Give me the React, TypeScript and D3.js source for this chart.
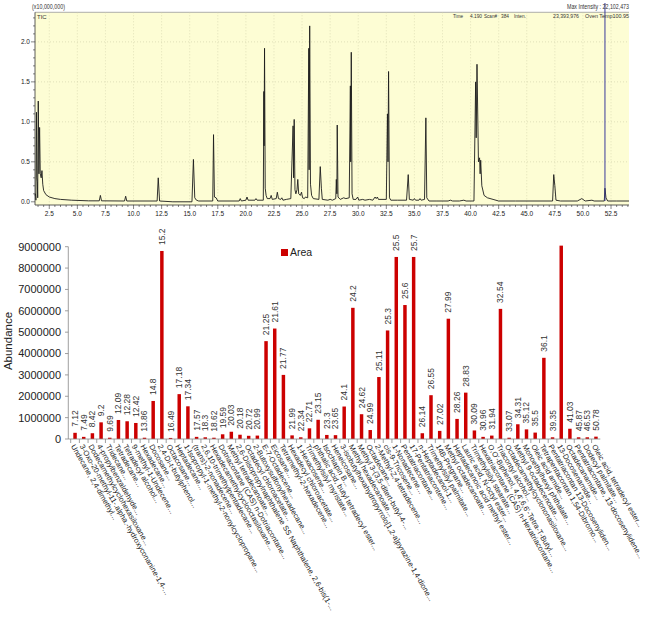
import React from "react";
import * as d3 from "d3";

// ---------- Chromatogram (TIC) data: [retention time (min), intensity (x10,000,000)] ----------
const ticTrace: [number, number][] = [
  [1.23, 0.08], [1.27, 0.1], [1.31, 0.02], [1.36, 1.12], [1.4, 0.3], [1.44, 0.25], [1.47, 0.05],
  [1.52, 1.26], [1.58, 0.35], [1.64, 0.93], [1.7, 0.35], [1.78, 0.3], [1.85, 0.39], [1.92, 0.22],
  [2.0, 0.14], [2.2, 0.09], [2.5, 0.06], [3.0, 0.04], [3.5, 0.03], [4.5, 0.02], [6.0, 0.012],
  [6.95, 0.012], [7.05, 0.08], [7.15, 0.012], [9.2, 0.01], [9.3, 0.07], [9.4, 0.01], [12.1, 0.01],
  [12.2, 0.3], [12.32, 0.01], [13.5, 0.0], [15.2, 0.0], [15.33, 0.53], [15.45, 0.05], [15.6, 0.02],
  [15.8, 0.01], [17.05, 0.01], [17.12, 0.84], [17.2, 0.06], [17.35, 0.05], [17.5, 0.01], [19.4, 0.01],
  [19.5, 0.04], [19.6, 0.01], [20.0, 0.02], [20.1, 0.06], [20.2, 0.02], [20.8, 0.02], [20.9, 0.04],
  [21.0, 0.02], [21.55, 0.02], [21.6, 1.38], [21.62, 0.7], [21.66, 1.92], [21.72, 0.17], [21.8, 0.08],
  [21.9, 0.04], [22.15, 0.04], [22.25, 0.08], [22.35, 0.03], [22.7, 0.04], [22.8, 0.12], [22.9, 0.04],
  [23.1, 0.03], [23.2, 0.05], [23.3, 0.02], [23.6, 0.03], [24.0, 0.04], [24.2, 0.95], [24.25, 0.3],
  [24.3, 1.03], [24.37, 0.15], [24.45, 0.1], [24.55, 0.15], [24.62, 0.28], [24.7, 0.1], [24.85, 0.08],
  [24.95, 0.12], [25.05, 0.05], [25.2, 0.04], [25.3, 0.06], [25.5, 0.05], [25.6, 1.92], [25.63, 0.4],
  [25.68, 2.2], [25.75, 0.22], [25.85, 0.08], [26.0, 0.04], [26.5, 0.03], [26.62, 0.44], [26.72, 0.17],
  [26.8, 0.03], [27.3, 0.02], [27.5, 0.03], [27.7, 0.02], [28.0, 0.04], [28.05, 0.28], [28.1, 0.1],
  [28.13, 0.96], [28.2, 0.06], [28.4, 0.03], [28.7, 0.05], [28.9, 0.04], [29.2, 0.05], [29.3, 1.45],
  [29.33, 0.5], [29.38, 1.87], [29.45, 0.1], [29.55, 0.03], [29.8, 0.03], [29.95, 0.06], [30.05, 0.02],
  [30.4, 0.03], [30.6, 0.02], [31.0, 0.03], [31.3, 0.02], [31.5, 0.06], [31.6, 0.04], [31.7, 0.06],
  [31.8, 0.03], [32.5, 0.03], [32.6, 1.1], [32.65, 0.5], [32.7, 1.63], [32.78, 0.05], [32.9, 0.02],
  [33.5, 0.02], [34.3, 0.02], [34.45, 0.34], [34.55, 0.03], [34.9, 0.02], [35.0, 0.04], [35.1, 0.02],
  [35.4, 0.02], [35.5, 0.04], [35.6, 0.02], [35.9, 0.03], [36.02, 1.05], [36.1, 0.05], [36.3, 0.01],
  [37.0, 0.01], [38.0, 0.01], [38.2, 0.02], [38.4, 0.01], [39.0, 0.01], [39.4, 0.02], [39.6, 0.01],
  [40.3, 0.01], [40.45, 1.5], [40.5, 0.8], [40.57, 1.72], [40.7, 0.5], [40.8, 0.55], [40.85, 0.35],
  [40.9, 0.52], [41.0, 0.2], [41.2, 0.08], [41.5, 0.05], [42.0, 0.03], [42.5, 0.01], [44.0, 0.01],
  [46.0, 0.01], [47.3, 0.01], [47.4, 0.34], [47.5, 0.2], [47.6, 0.02], [48.0, 0.01], [49.5, 0.01],
  [49.9, 0.04], [50.2, 0.01], [50.8, 0.02], [51.0, 0.01], [51.9, 0.01], [51.96, 0.17], [52.05, 0.05],
  [52.2, 0.01], [53.0, 0.01], [54.1, 0.01],
];
const ticXTicks = [2.5, 5, 7.5, 10, 12.5, 15, 17.5, 20, 22.5, 25, 27.5, 30, 32.5, 35, 37.5, 40, 42.5, 45, 47.5, 50, 52.5];
const ticYTicks = [0, 0.5, 1.0, 1.5, 2.0];
const cursorTime = 51.96;

// ---------- Bar chart data ----------
const retentionTimes = [
  "7.12", "7.49", "8.42", "9.2", "9.69", "12.09", "12.28", "12.42", "13.86", "14.8",
  "15.2", "16.49", "17.18", "17.34", "17.57", "18.3", "18.62", "19.59", "20.03", "20.18",
  "20.72", "20.99", "21.25", "21.61", "21.77", "21.99", "22.34", "22.71", "23.15", "23.3",
  "23.65", "24.1", "24.2", "24.62", "24.99", "25.11", "25.3", "25.5", "25.6", "25.7",
  "26.14", "26.55", "27.02", "27.99", "28.26", "28.83", "30.09", "30.96", "31.94", "32.54",
  "33.07", "34.31", "35.12", "35.5", "36.1", "39.35", "", "41.03", "45.87", "46.53", "50.78",
];
const compounds = [
  "Undecane, 2,4-dimethyl...",
  "3-Oxo-20-methyl-11-.alpha.-hydroxyconanine-1,4-...",
  "Dodecamethylcyclohexasiloxane...",
  "4-propylbenzaldehyde...",
  "Tridecane...",
  "Tetradecane...",
  "Tetradecyl alcohol...",
  "9-methyl-1-Undecene...",
  "Hexadecane...",
  "Docosane...",
  "2,4-Di-t-butylphenol...",
  "Octacosane...",
  "Heptadecane...",
  "1-Isopropyl-1-methyl-2-nonylcyclopropane...",
  "(trans)-2-nonadecene...",
  "2,6,10-trimethylpentadecane...",
  "Hexadecamethylcyclooctasiloxane...",
  "Dotriacontane (CAS) n-Dotriacontane...",
  "Methyl tetradecanoate...",
  "2,6-Diisopropylnaphthalene SS Naphthalene, 2,6-bis(1-...",
  "Octadecyl chloroacetate...",
  "2-Butoxysulfonylhexadecane...",
  "E-7-Octadecene...",
  "Eicosane...",
  "Tetramethyl-2-hexadecene...",
  "Hexadecyl chloroacetate...",
  "1-Hexacosene...",
  "Trimethylsilyl myristate...",
  "phthalic acid, butyl tetradecyl ester...",
  "Isochiapin B...",
  "Heneicosane...",
  "3-isobutylhexahydropyrrolo[1,2-a]pyrazine-1,4-dione...",
  "Methyl hexadecanoate...",
  "Methyl 3-(3,5-ditert-butyl-4-...",
  "Octadecane...",
  "2-Methyl-Z,4-tetradecene...",
  "cis-9-Tricosene...",
  "1-Nonadecene...",
  "Pentatriacontane...",
  "17-Pentatriacontene...",
  "n-Heptadecanol-1...",
  "Trimethylsilyl palmitate...",
  "14B-Pregnane...",
  "Methyl octadecanoate...",
  "Heptadecanoic acid methyl ester...",
  "Lauric acid, N-octyl ester...",
  "Trimethylsilyl stearate...",
  "Hexatriacontane (CAS) n-Hexatriacontane...",
  "O,O'-Biphenol, 4,4',6,6'-Tetra-T-Butyl...",
  "Triacontyl alcohol...",
  "Octadecamethylcyclononasiloxane...",
  "Methyl 9-octadecenoate...",
  "Monoethylhexyl phthalate...",
  "Oleic acid amide...",
  "Tetrapentacontan 1,54-Dibromo...",
  "Pentatriacontan 13-Docosenyliden...",
  "13-Docosenamide...",
  "Octadecanamide...",
  "Pentatriacontane, 13-docosenylidene...",
  "Dodecyl palmitate...",
  "Oleic acid, tetradecyl ester...",
];
const areas = [
  290000, 100000, 270000, 780000, 60000, 890000, 830000, 750000, 60000, 1780000,
  8800000, 50000, 2100000, 1530000, 100000, 80000, 60000, 220000, 340000, 200000,
  150000, 160000, 4580000, 5170000, 3000000, 170000, 80000, 500000, 900000, 190000,
  180000, 1520000, 6140000, 1160000, 420000, 2900000, 5080000, 8520000, 6270000, 8520000,
  270000, 2050000, 380000, 5630000, 940000, 2170000, 400000, 100000, 160000, 6090000,
  60000, 690000, 450000, 300000, 3800000, 80000, 9050000, 480000, 80000, 80000, 110000,
];
const abundanceTicks = [0, 1000000, 2000000, 3000000, 4000000, 5000000, 6000000, 7000000, 8000000, 9000000];
const seriesName = "Area";

export default function App() {
  // ---- TIC scales ----
  const tx = d3.scaleLinear().domain([1.23, 54.1]).range([35, 629]);
  const ty = d3.scaleLinear().domain([-0.04, 2.37]).range([205, 12.3]);
  const ticLine = d3
    .line<[number, number]>()
    .x((d) => tx(d[0]))
    .y((d) => ty(d[1]));
  const minorX = d3.range(1.5, 54.01, 0.5);
  const minorY = d3.range(0, 2.31, 0.1);

  // ---- Bar scales ----
  const idx = areas.map((_, i) => i);
  const bx = d3.scaleBand<number>().domain(idx).range([70.7, 600.3]).paddingInner(0.6).paddingOuter(0.3);
  const by = d3.scaleLinear().domain([0, 9000000]).range([439, 246.7]);
  const step = bx.step();
  const small = { fontFamily: "'Liberation Sans', Arial, sans-serif" };
  const font = "'Liberation Sans', Arial, sans-serif";

  return (
    <div style={{ position: "absolute", left: 0, top: 0 }}>
      <svg width={668} height={620} style={{ display: "block", background: "#fff" }}>
        <defs>
          <clipPath id="barclip">
            <rect x={0} y={229} width={668} height={400} />
          </clipPath>
        </defs>

        {/* ================= TIC chromatogram ================= */}
        <rect x={35} y={12.3} width={594} height={205 - 12.3} fill="#fdfdd4" />
        <line x1={35} x2={629} y1={12.3} y2={12.3} stroke="#9a9a9a" strokeWidth={0.8} />
        {ticXTicks.map((t) => (
          <line key={"gx" + t} x1={tx(t)} x2={tx(t)} y1={12.3} y2={205} stroke="#cfcfa8" strokeWidth={0.6} strokeDasharray="1,2" />
        ))}
        {ticYTicks.slice(1).map((v) => (
          <line key={"gy" + v} x1={35} x2={629} y1={ty(v)} y2={ty(v)} stroke="#cfcfa8" strokeWidth={0.6} strokeDasharray="1,2" />
        ))}
        <path d={ticLine(ticTrace) || ""} fill="none" stroke="#1c1c1c" strokeWidth={0.9} />
        <line x1={tx(cursorTime)} x2={tx(cursorTime)} y1={3} y2={ty(0.01)} stroke="#3a3a9a" strokeWidth={1} />
        {/* axes */}
        <line x1={35} x2={35} y1={12.3} y2={205} stroke="#333" strokeWidth={0.8} />
        <line x1={35} x2={629} y1={205} y2={205} stroke="#333" strokeWidth={0.8} />
        {minorX.map((t) => (
          <line key={"mx" + t} x1={tx(t)} x2={tx(t)} y1={205} y2={t % 2.5 === 0 ? 209 : 207} stroke="#333" strokeWidth={0.6} />
        ))}
        {minorY.map((v) => (
          <line key={"my" + v} x1={Math.abs((v * 10) % 5) < 0.01 ? 31 : 33} x2={35} y1={ty(v)} y2={ty(v)} stroke="#333" strokeWidth={0.6} />
        ))}
        {ticXTicks.map((t) => (
          <text key={"xl" + t} x={tx(t)} y={215.5} textAnchor="middle" fontSize={6.5} fill="#222" style={small}>
            {t.toFixed(1)}
          </text>
        ))}
        {ticYTicks.map((v) => (
          <text key={"yl" + v} x={30} y={ty(v)} dy="0.35em" textAnchor="end" fontSize={6.5} fill="#222" style={small}>
            {v.toFixed(1)}
          </text>
        ))}
        <text x={32} y={9} fontSize={6.5} fill="#333" textLength={33} lengthAdjust="spacingAndGlyphs" style={small}>
          (x10,000,000)
        </text>
        <text x={37} y={19} fontSize={6} fill="#333" style={small}>
          TIC
        </text>
        <text x={629} y={8.5} fontSize={6.5} fill="#333" textAnchor="end" textLength={62} lengthAdjust="spacingAndGlyphs" style={small}>
          Max Intensity : 22,102,473
        </text>
        <g fontSize={6} fill="#333" style={small}>
          <text x={453} y={18} textLength={10} lengthAdjust="spacingAndGlyphs">Time</text>
          <text x={470} y={18} textLength={12} lengthAdjust="spacingAndGlyphs">4.190</text>
          <text x={484} y={18} textLength={13} lengthAdjust="spacingAndGlyphs">Scan#</text>
          <text x={501} y={18} textLength={8} lengthAdjust="spacingAndGlyphs">384</text>
          <text x={514} y={18} textLength={12} lengthAdjust="spacingAndGlyphs">Inten.</text>
          <text x={553} y={18} textLength={26} lengthAdjust="spacingAndGlyphs">23,393,976</text>
          <text x={585} y={18} textLength={44} lengthAdjust="spacingAndGlyphs">Oven Temp100.95</text>
        </g>

        {/* ================= Bar chart ================= */}
        <g clipPath="url(#barclip)">
          {areas.map((v, i) => (
            <rect key={"b" + i} x={bx(i)!} y={by(v)} width={bx.bandwidth()} height={by(0) - by(v)} fill="#cc0000" />
          ))}
          {areas.map((v, i) =>
            retentionTimes[i] ? (
              <text
                key={"v" + i}
                transform={`translate(${bx(i)! + bx.bandwidth() / 2},${by(v) - 6}) rotate(-90)`}
                dy="0.35em"
                fontSize={8.5}
                fill="#333"
                style={{ fontFamily: font }}
              >
                {retentionTimes[i]}
              </text>
            ) : null
          )}
        </g>
        {/* y axis */}
        <line x1={68.3} x2={68.3} y1={246.7} y2={439} stroke="#888" strokeWidth={0.8} />
        {abundanceTicks.map((t) => (
          <g key={"at" + t}>
            <line x1={65} x2={68.3} y1={by(t)} y2={by(t)} stroke="#888" strokeWidth={0.8} />
            <text x={61} y={by(t)} dy="0.36em" textAnchor="end" fontSize={11} fill="#222" style={{ fontFamily: font }}>
              {t}
            </text>
          </g>
        ))}
        <text transform="translate(12,341) rotate(-90)" textAnchor="middle" fontSize={11.5} fill="#222" style={{ fontFamily: font }}>
          Abundance
        </text>
        {/* x axis */}
        <line x1={68.3} x2={600.3} y1={439} y2={439} stroke="#888" strokeWidth={0.8} />
        {idx.map((i) => (
          <line key={"xt" + i} x1={bx(i)! - (step - bx.bandwidth()) / 2} x2={bx(i)! - (step - bx.bandwidth()) / 2} y1={439} y2={443} stroke="#888" strokeWidth={0.8} />
        ))}
        {compounds.map((c, i) => (
          <text
            key={"c" + i}
            transform={`translate(${bx(i)! + bx.bandwidth() / 2 - 2},${445}) rotate(60)`}
            dy="0.35em"
            fontSize={7.5}
            fill="#1a1a1a"
            style={{ fontFamily: font }}
          >
            {c}
          </text>
        ))}
        {/* legend */}
        <rect x={281} y={249} width={7} height={7} fill="#cc0000" />
        <text x={290} y={256} fontSize={10.5} fill="#222" style={{ fontFamily: font }}>
          {seriesName}
        </text>
      </svg>
    </div>
  );
}
